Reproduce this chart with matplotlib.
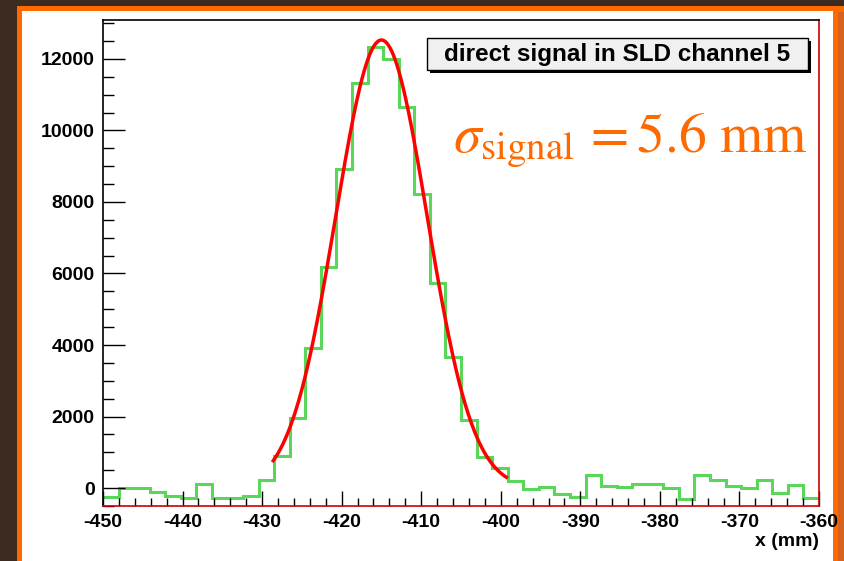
import numpy as np
import matplotlib
matplotlib.use("Agg")
import matplotlib.pyplot as plt
from matplotlib.patches import Rectangle

plt.rcParams['font.family'] = ['Liberation Sans', 'DejaVu Sans']
plt.rcParams['axes.unicode_minus'] = False
plt.rcParams['mathtext.fontset'] = 'stix'

# histogram: 46 bins from -450 to -360 mm
x_min = -450
x_max = -360
counts = [-240, 0, 0, -100, -225, -290, 100, -290, -290, -225,
          225, 885, 1965, 3925, 6190, 8915, 11340, 12330, 11990, 10650,
          8225, 5725, 3655, 1900, 860, 570, 205, -35, 35, -175,
          -245, 365, 65, 20, 110, 110, -10, -315, 365, 225,
          55, -10, 225, -130, 85, -290]
edges = np.linspace(x_min, x_max, len(counts) + 1)

# gaussian fit
fit_amp = 12530
fit_mean = -415.0
fit_sigma = 5.75
fit_from = -428.6
fit_to = -399.3

x_ticks = [-450, -440, -430, -420, -410, -400, -390, -380, -370, -360]
y_ticks = [0, 2000, 4000, 6000, 8000, 10000, 12000]

W, H = 845, 561
fig = plt.figure(figsize=(W / 100, H / 100), dpi=100)
fig.patch.set_facecolor('#3b2b20')

# orange frame + white canvas
fig.patches.append(Rectangle((17 / W, 0), 1, 1 - 6 / H, transform=fig.transFigure,
                             facecolor='#ff6a00', edgecolor='none', zorder=-3))
fig.patches.append(Rectangle((838 / W, 0), 7 / W, 1 - 12 / H, transform=fig.transFigure,
                             facecolor='#d8621c', edgecolor='none', zorder=-2))
fig.patches.append(Rectangle((22 / W, 0), 811 / W, 1 - 11 / H, transform=fig.transFigure,
                             facecolor='white', edgecolor='none', zorder=-1))

ax = fig.add_axes([103 / W, 1 - 506 / H, 716 / W, 486 / H])
ax.set_facecolor('white')

ax.stairs(counts, edges, baseline=None, color='#5ad65a', lw=2.2)

xf = np.linspace(fit_from, fit_to, 300)
yf = fit_amp * np.exp(-0.5 * ((xf - fit_mean) / fit_sigma) ** 2)
ax.plot(xf, yf, color='#ff0000', lw=2.5)

ax.set_xlim(x_min, x_max)
ax.set_ylim(-503, 13090)

ax.set_xticks(x_ticks)
ax.set_xticks(np.arange(-450, -359, 2), minor=True)
ax.set_yticks(y_ticks)
ax.set_yticks(np.arange(-500, 13001, 500), minor=True)
ax.set_yticklabels([str(v) for v in y_ticks])

ax.tick_params(axis='both', which='both', direction='in', width=1.0, colors='black',
               top=False, right=False)
ax.tick_params(axis='y', which='major', length=16, pad=6)
ax.tick_params(axis='y', which='minor', length=8)
ax.tick_params(axis='x', which='major', length=11, pad=6)
ax.tick_params(axis='x', which='minor', length=5.5)
for lab in ax.get_xticklabels() + ax.get_yticklabels():
    lab.set_fontsize(14)
    lab.set_fontweight('bold')

ax.spines['left'].set_color('black')
ax.spines['top'].set_color('black')
ax.spines['right'].set_color('#cc0000')
ax.spines['bottom'].set_color('#cc0000')
for s in ax.spines.values():
    s.set_linewidth(1.2)

ax.set_xlabel('x (mm)', loc='right', fontsize=14, fontweight='bold', labelpad=1)

# title box with shadow
bx0, bx1 = (427 - 103) / 716, (808 - 103) / 716
by0, by1 = (506 - 70) / 486, (506 - 38) / 486
ax.add_patch(Rectangle((bx0 + 3 / 716, by0 - 3 / 486), bx1 - bx0, by1 - by0,
                       transform=ax.transAxes, facecolor='black', edgecolor='none',
                       clip_on=False, zorder=5))
ax.add_patch(Rectangle((bx0, by0), bx1 - bx0, by1 - by0, transform=ax.transAxes,
                       facecolor='#f0f0f0', edgecolor='black', lw=1.0,
                       clip_on=False, zorder=6))
ax.text((bx0 + bx1) / 2, (by0 + by1) / 2, 'direct signal in SLD channel 5',
        transform=ax.transAxes, ha='center', va='center', fontsize=17.5,
        fontweight='bold', zorder=7)

fig.text(453 / W, 1 - 152 / H, r'$\sigma_{\rm signal}\, = 5.6\ {\rm mm}$',
         fontsize=40, color='#ff6a00', ha='left', va='baseline')

fig.savefig('out.png', dpi=100, facecolor=fig.get_facecolor())
